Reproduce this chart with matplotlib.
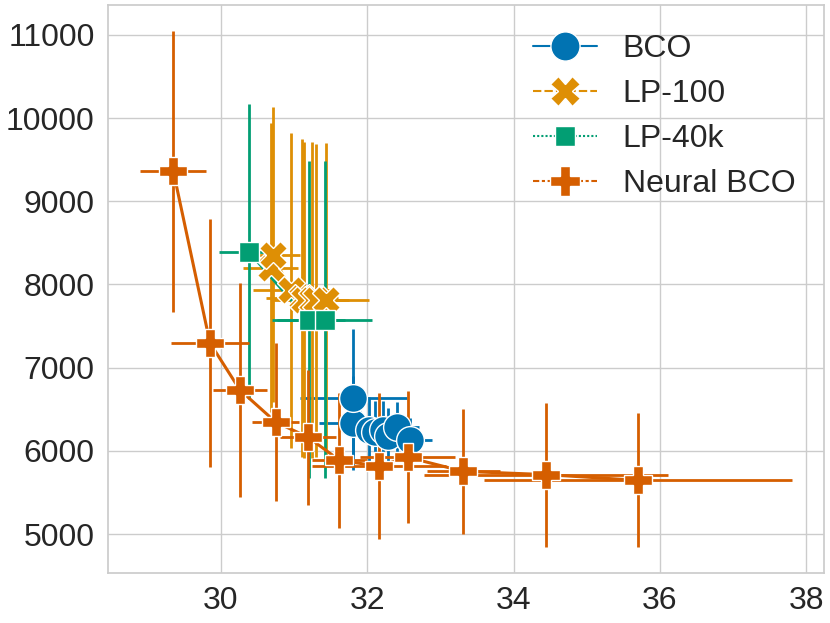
import matplotlib
matplotlib.use("Agg")
import matplotlib.pyplot as plt
from matplotlib.lines import Line2D
import seaborn as sns

# values
bco_x = [31.80, 31.81, 32.02, 32.11, 32.21, 32.29, 32.41, 32.59]
bco_y = [6334, 6635, 6250, 6226, 6250, 6178, 6286, 6130]
bco_xerr = [0.46, 0.73, 0.35, 0.30, 0.30, 0.30, 0.30, 0.30]
bco_yerr = [565, 830, 400, 380, 350, 340, 300, 265]

lp100_x = [30.68, 30.705, 30.955, 31.105, 31.14, 31.24, 31.30, 31.44]
lp100_y = [8200, 8358, 7928, 7840, 7812, 7816, 7812, 7816]
lp100_xerr = [0.375, 0.38, 0.52, 0.49, 0.45, 0.45, 0.45, 0.58]
lp100_yerr = [1735, 1775, 1895, 1910, 1900, 1900, 1880, 1880]

lp40k_x = [30.38, 31.20, 31.42]
lp40k_y = [8394, 7575, 7575]
lp40k_xerr = [0.40, 0.50, 0.65]
lp40k_yerr = [1770, 1905, 1905]

nbco_x = [29.35, 29.85, 30.26, 30.75, 31.19, 31.62, 32.16, 32.55, 33.31, 34.44, 35.70]
nbco_y = [9358, 7298, 6732, 6346, 6166, 5888, 5816, 5925, 5755, 5716, 5647]
nbco_xerr = [0.45, 0.53, 0.37, 0.32, 0.38, 0.38, 0.92, 0.65, 0.50, 1.67, 2.10]
nbco_yerr = [1690, 1490, 1287, 950, 810, 810, 875, 790, 750, 865, 805]

labels = ["BCO", "LP-100", "LP-40k", "Neural BCO"]

sns.set_theme(style="whitegrid")
plt.rcParams["font.family"] = ["Liberation Sans", "DejaVu Sans"]
plt.rcParams["xtick.labelsize"] = 23
plt.rcParams["ytick.labelsize"] = 23
plt.rcParams["legend.fontsize"] = 23

colors = sns.color_palette("colorblind")
cols = [colors[0], colors[1], colors[2], colors[3]]
markers = ["o", "X", (4, 0, 45), "P"]
dashes = ["-", (0, (4, 1.5)), (0, (1, 1)), (0, (3, 1.25, 1.5, 1.25))]
msize = 20

fig = plt.figure(figsize=(8.3, 6.23), dpi=100)
ax = fig.add_axes([0.130, 0.080, 0.863, 0.912])

series = [
    (bco_x, bco_y, bco_xerr, bco_yerr),
    (lp100_x, lp100_y, lp100_xerr, lp100_yerr),
    (lp40k_x, lp40k_y, lp40k_xerr, lp40k_yerr),
    (nbco_x, nbco_y, nbco_xerr, nbco_yerr),
]

for (x, y, xe, ye), c, m in zip(series, cols, markers):
    ax.errorbar(x, y, xerr=xe, yerr=ye, color=c, lw=2.2, elinewidth=2, zorder=2)
    ax.plot(x, y, linestyle="none", marker=m, markersize=msize, color=c,
            markeredgecolor="white", markeredgewidth=1, zorder=3)

ax.set_xticks([30, 32, 34, 36, 38])
ax.set_yticks([5000, 6000, 7000, 8000, 9000, 10000, 11000])

handles = [Line2D([], [], color=c, marker=m, markersize=21, linestyle=d, lw=1.5,
                  markeredgecolor="white", markeredgewidth=1)
           for c, m, d in zip(cols, markers, dashes)]
ax.legend(handles, labels, loc="upper right", frameon=False, labelspacing=0.47)

fig.savefig("out.png", dpi=100)
